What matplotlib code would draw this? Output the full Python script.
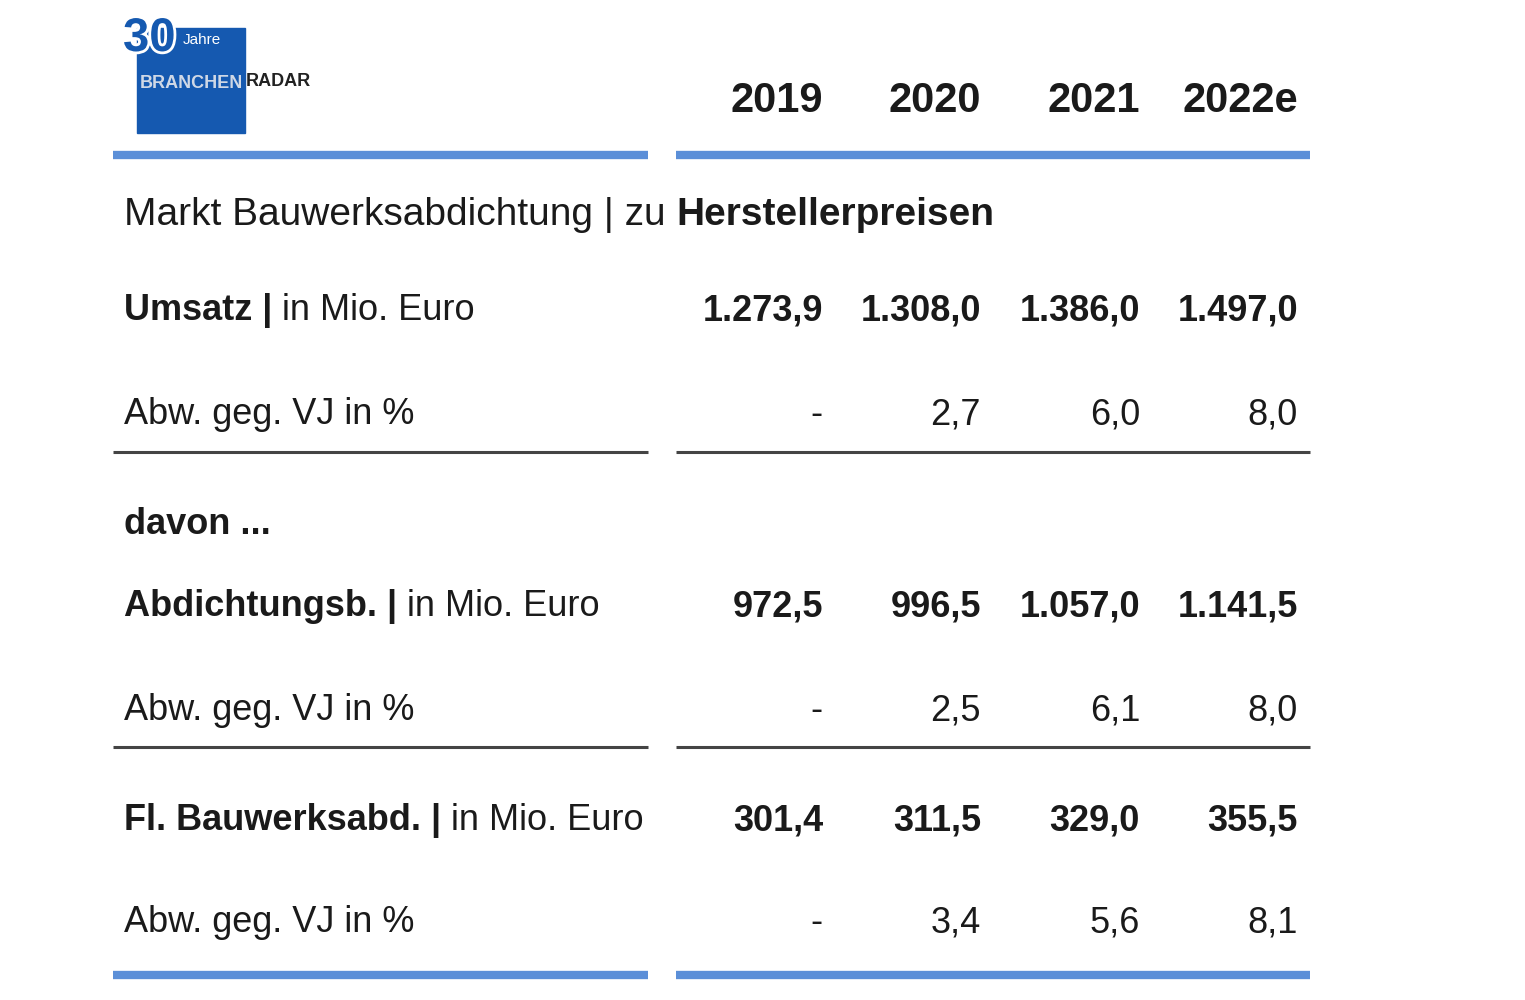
import matplotlib.pyplot as plt
import matplotlib.patheffects as pe
from matplotlib.patches import Rectangle

years = ["2019", "2020", "2021", "2022e"]
umsatz = ["1.273,9", "1.308,0", "1.386,0", "1.497,0"]
umsatz_vj = ["-", "2,7", "6,0", "8,0"]
abdicht = ["972,5", "996,5", "1.057,0", "1.141,5"]
abdicht_vj = ["-", "2,5", "6,1", "8,0"]
flbau = ["301,4", "311,5", "329,0", "355,5"]
flbau_vj = ["-", "3,4", "5,6", "8,1"]

W, H = 1525, 1000
fig = plt.figure(figsize=(15.25, 10), dpi=100)
fam = ["Liberation Sans", "DejaVu Sans"]


def fx(x):
    return x / W


def fy(y):
    return 1 - (y + 3) / H


def txt(x, y, s, ha="left", weight="normal", size=26, color="#1a1a1a"):
    return fig.text(fx(x), fy(y), s, ha=ha, va="center", fontsize=size,
                    fontweight=weight, color=color, family=fam, zorder=5)


def txt_after(t, y, s, weight="normal", size=26):
    fig.canvas.draw()
    bb = t.get_window_extent()
    return fig.text(bb.x1 / W, fy(y), s, ha="left", va="center", fontsize=size,
                    fontweight=weight, family=fam, color="#1a1a1a", zorder=5)


def hline(y, color, lw):
    for x0, x1 in [(113, 648), (676, 1310)]:
        fig.add_artist(plt.Line2D([fx(x0), fx(x1)], [fy(y - 3), fy(y - 3)],
                                  color=color, lw=lw, solid_capstyle="butt"))


# logo
fig.add_artist(Rectangle((fx(137), 1 - 133 / H), fx(108), 105 / H,
                         color="#1559b0", transform=fig.transFigure, zorder=1))
t30 = txt(123, 36, "30", weight="bold", size=34, color="#1559b0")
t30.set_path_effects([pe.withStroke(linewidth=4, foreground="white")])
txt(183, 37, "Jahre", size=11, color="white")
txt(140, 80, "BRANCHEN", weight="bold", size=13, color="#cfd8e6")
txt(246, 78, "RADAR", weight="bold", size=13, color="#222222")

col_x = [823, 981, 1140, 1298]
for x, s in zip(col_x, years):
    txt(x, 98, s, ha="right", weight="bold", size=30)

hline(155, "#5b8fd8", 6)
hline(452, "#444444", 2.2)
hline(747, "#444444", 2.2)
hline(975, "#5b8fd8", 6)

t = txt(124, 212, "Markt Bauwerksabdichtung | zu ", size=28)
txt_after(t, 212, "Herstellerpreisen", weight="bold", size=28)

rows = [
    (308, "Umsatz |", " in Mio. Euro", umsatz, True),
    (412, "Abw. geg. VJ in %", "", umsatz_vj, False),
    (604, "Abdichtungsb. |", " in Mio. Euro", abdicht, True),
    (708, "Abw. geg. VJ in %", "", abdicht_vj, False),
    (818, "Fl. Bauwerksabd. |", " in Mio. Euro", flbau, True),
    (920, "Abw. geg. VJ in %", "", flbau_vj, False),
]
for y, lab, rest, vals, bold in rows:
    if bold:
        t = txt(124, y, lab, weight="bold")
        txt_after(t, y, rest)
    else:
        txt(124, y, lab)
    for x, v in zip(col_x, vals):
        txt(x, y, v, ha="right", weight="bold" if bold else "normal")

txt(124, 522, "davon ...", weight="bold")

fig.savefig("out.png", dpi=100, facecolor="white")
